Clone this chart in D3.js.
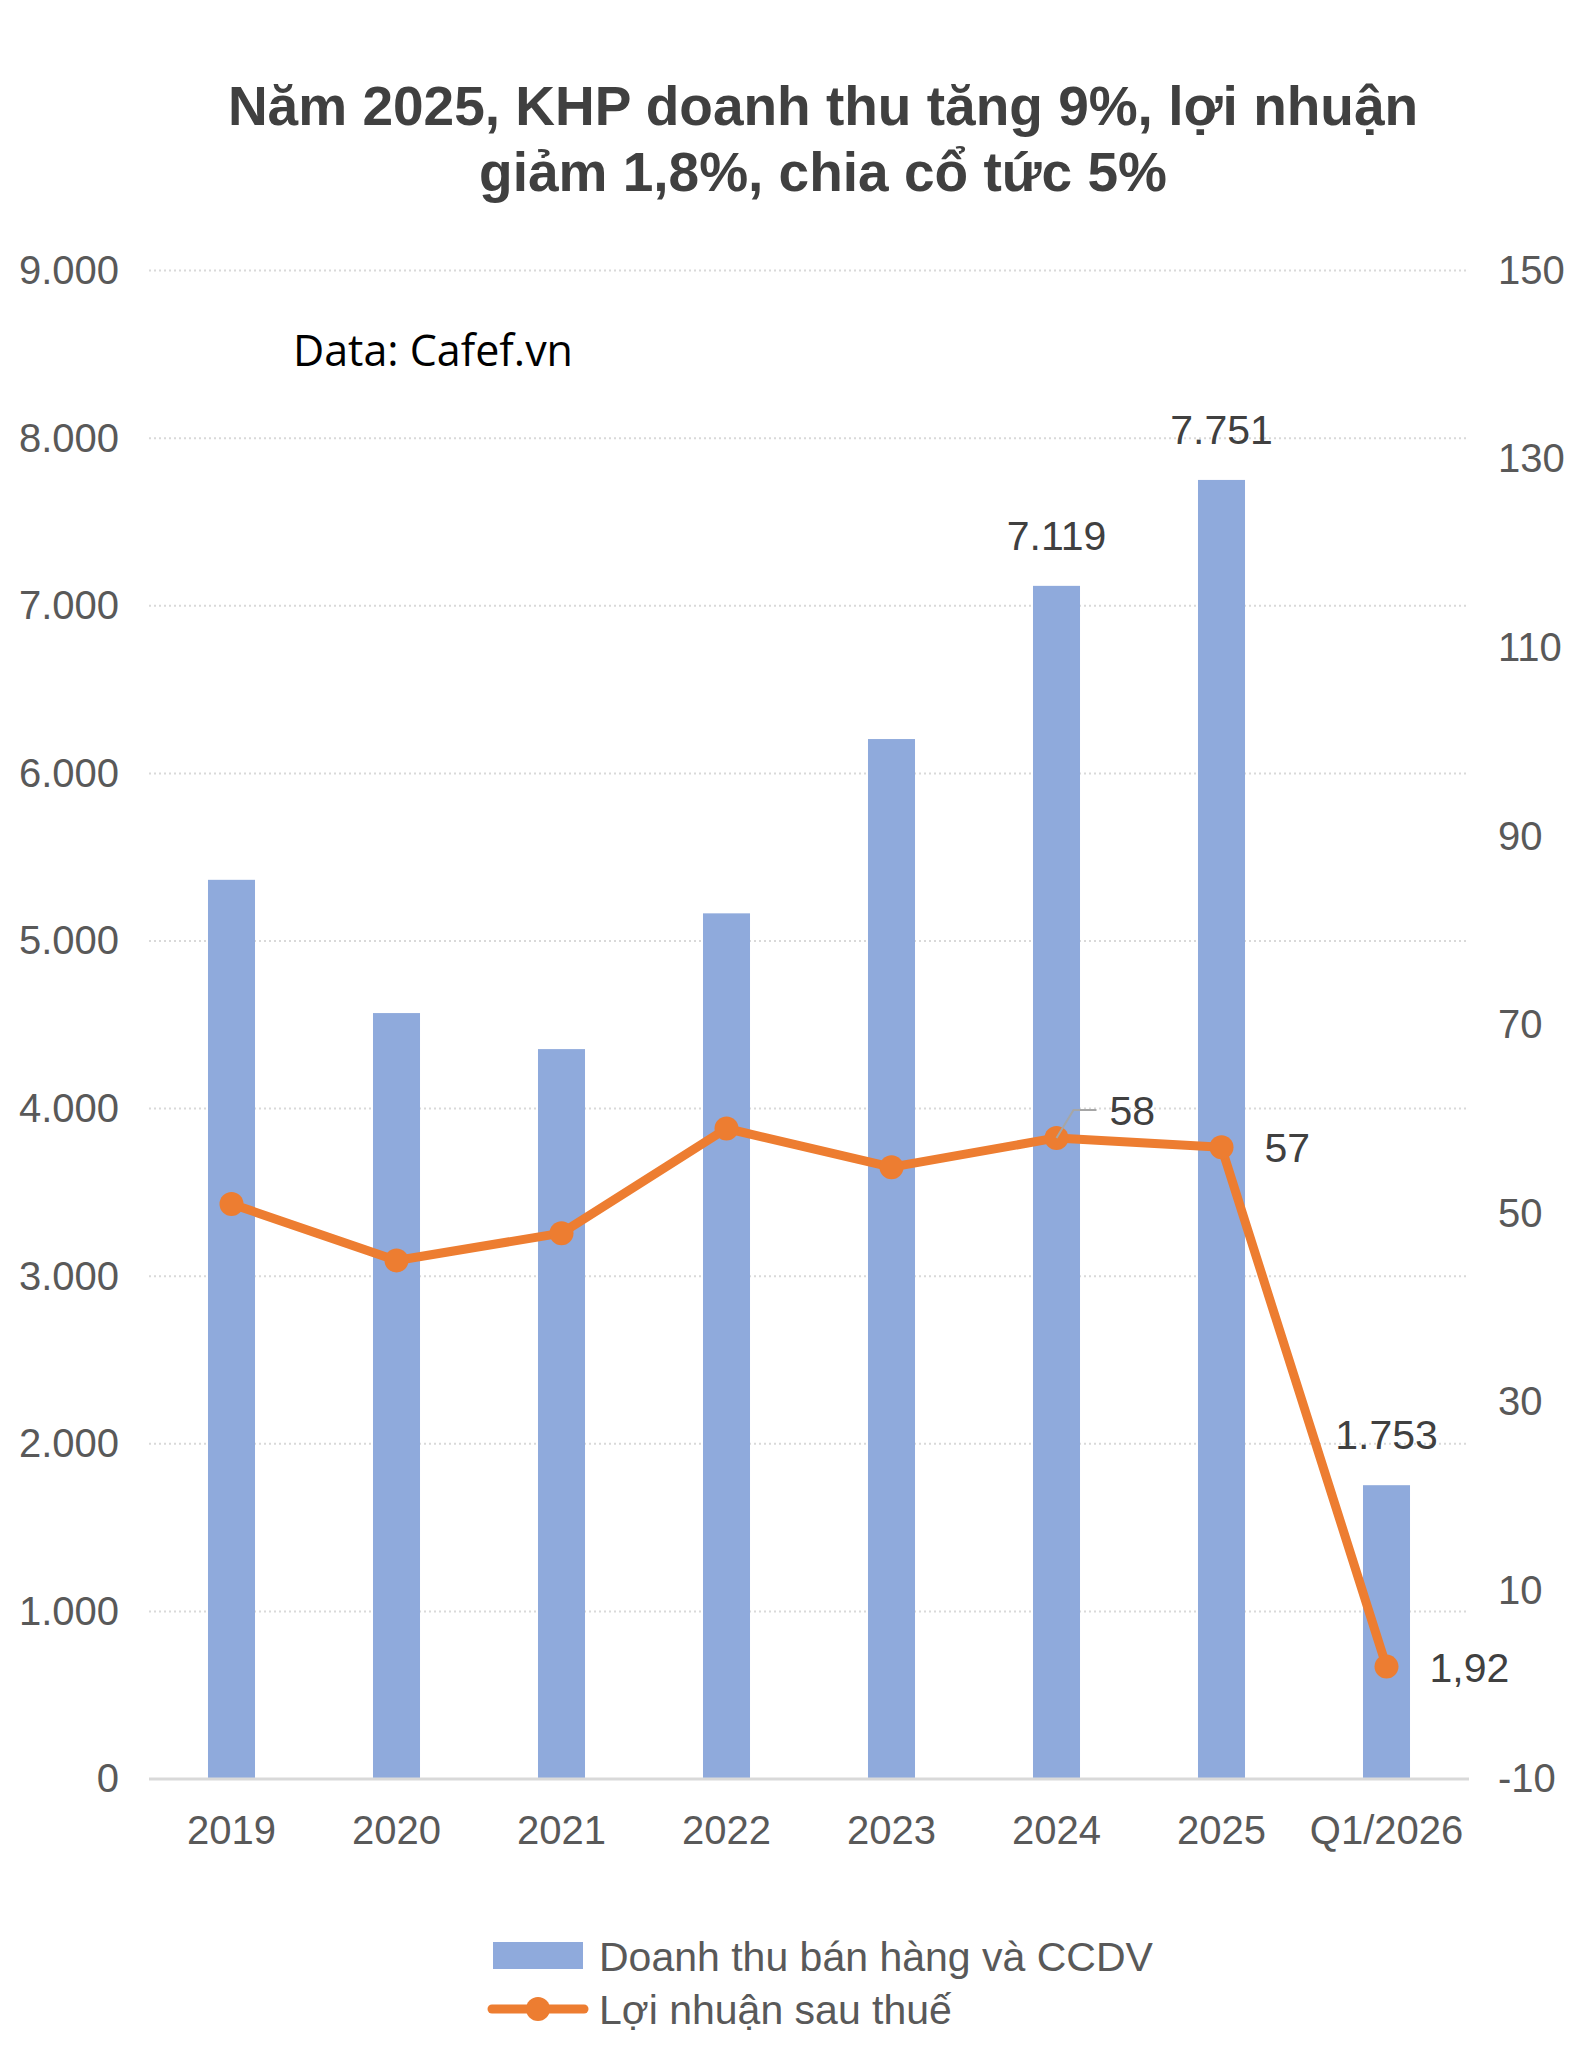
<!DOCTYPE html>
<html>
<head>
<meta charset="utf-8">
<script src="https://cdn.jsdelivr.net/npm/d3@7"></script>
<style>
  body { margin: 0; background: #fff; }
</style>
</head>
<body>
<div id="chart"></div>
<script>
// data
var categories = ["2019", "2020", "2021", "2022", "2023", "2024", "2025", "Q1/2026"];
var revenue = [5365, 4570, 4355, 5165, 6205, 7119, 7751, 1753];
var profit = [51, 45, 47.9, 59, 54.9, 58, 57, 1.92];
var leftTicks = [0, 1000, 2000, 3000, 4000, 5000, 6000, 7000, 8000, 9000];
var rightTicks = [-10, 10, 30, 50, 70, 90, 110, 130, 150];
var revenueLabelled = ["2024", "2025", "Q1/2026"];
var profitLabelled = ["2024", "2025", "Q1/2026"];

var w = 1584, h = 2069;
var plotLeft = 149, plotRight = 1469, plotTop = 270.6, plotBottom = 1779;

var locale = d3.formatLocale({decimal: ",", thousands: ".", grouping: [3], currency: ["", ""]});
var fmtInt = locale.format(",d");
var fmtDec = locale.format(",.2f");

var svg = d3.select("#chart").append("svg")
  .attr("width", w).attr("height", h)
  .attr("font-family", "Liberation Sans, Arial, sans-serif");

var x = d3.scaleBand().domain(categories).range([plotLeft, plotRight]).paddingInner(0.715).paddingOuter(0.3575);
var yL = d3.scaleLinear().domain([0, 9000]).range([plotBottom, plotTop]);
var yR = d3.scaleLinear().domain([-10, 150]).range([plotBottom, plotTop]);

// title
var title = svg.append("text")
  .attr("text-anchor", "middle")
  .attr("font-size", 55).attr("font-weight", "bold")
  .attr("fill", "#404040");
title.append("tspan").attr("x", 823).attr("y", 125).text("Năm 2025, KHP doanh thu tăng 9%, lợi nhuận");
title.append("tspan").attr("x", 823).attr("y", 191).text("giảm 1,8%, chia cổ tức 5%");

// gridlines
svg.append("g")
  .selectAll("line")
  .data(leftTicks.filter(function(d) { return d > 0; }))
  .enter().append("line")
  .attr("x1", plotLeft).attr("x2", plotRight)
  .attr("y1", function(d) { return yL(d); })
  .attr("y2", function(d) { return yL(d); })
  .attr("stroke", "#d9d9d9").attr("stroke-width", 2)
  .attr("stroke-dasharray", "2,3");

// left axis
var axL = svg.append("g")
  .attr("transform", "translate(" + plotLeft + ",0)")
  .call(d3.axisLeft(yL).tickValues(leftTicks).tickSize(0).tickPadding(30).tickFormat(fmtInt));
axL.select(".domain").remove();
axL.selectAll("text").attr("font-size", 40).attr("fill", "#595959")
  .attr("font-family", "Liberation Sans, Arial, sans-serif");

// right axis
var axR = svg.append("g")
  .attr("transform", "translate(" + plotRight + ",0)")
  .call(d3.axisRight(yR).tickValues(rightTicks).tickSize(0).tickPadding(29).tickFormat(function(d) { return d; }));
axR.select(".domain").remove();
axR.selectAll("text").attr("font-size", 40).attr("fill", "#595959")
  .attr("font-family", "Liberation Sans, Arial, sans-serif");

// bars
svg.append("g")
  .selectAll("rect")
  .data(categories)
  .enter().append("rect")
  .attr("x", function(d) { return x(d); })
  .attr("width", x.bandwidth())
  .attr("y", function(d, i) { return yL(revenue[i]); })
  .attr("height", function(d, i) { return yL(0) - yL(revenue[i]); })
  .attr("fill", "#8faadc");

// baseline
svg.append("line")
  .attr("x1", plotLeft).attr("x2", plotRight)
  .attr("y1", plotBottom).attr("y2", plotBottom)
  .attr("stroke", "#d9d9d9").attr("stroke-width", 3);

// x axis
var axX = svg.append("g")
  .attr("transform", "translate(0," + plotBottom + ")")
  .call(d3.axisBottom(x).tickSize(0).tickPadding(37));
axX.select(".domain").remove();
axX.selectAll("text").attr("font-size", 40).attr("fill", "#595959")
  .attr("font-family", "Liberation Sans, Arial, sans-serif");

// profit line
var cx = function(i) { return x(categories[i]) + x.bandwidth() / 2; };
var line = d3.line()
  .x(function(d, i) { return cx(i); })
  .y(function(d) { return yR(d); });

svg.append("path")
  .datum(profit)
  .attr("d", line)
  .attr("fill", "none")
  .attr("stroke", "#ed7d31").attr("stroke-width", 9)
  .attr("stroke-linejoin", "round");

svg.append("g")
  .selectAll("circle")
  .data(profit)
  .enter().append("circle")
  .attr("cx", function(d, i) { return cx(i); })
  .attr("cy", function(d) { return yR(d); })
  .attr("r", 12)
  .attr("fill", "#ed7d31");

// bar labels
categories.forEach(function(c, i) {
  if (revenueLabelled.indexOf(c) < 0) return;
  svg.append("text")
    .attr("x", cx(i)).attr("y", yL(revenue[i]) - 36)
    .attr("text-anchor", "middle")
    .attr("font-size", 41).attr("fill", "#404040")
    .text(fmtInt(revenue[i]));
});

// profit labels
categories.forEach(function(c, i) {
  if (profitLabelled.indexOf(c) < 0) return;
  var px = cx(i), py = yR(profit[i]);
  var txt = profit[i] % 1 === 0 ? fmtInt(profit[i]) : fmtDec(profit[i]);
  if (c === "2024") {
    // leader line to the label
    svg.append("path")
      .attr("d", "M" + px + "," + py + "L" + (px + 17) + "," + (py - 28) + "L" + (px + 40) + "," + (py - 28))
      .attr("fill", "none").attr("stroke", "#a6a6a6").attr("stroke-width", 2);
    svg.append("text")
      .attr("x", px + 53).attr("y", py - 28 + 15)
      .attr("font-size", 41).attr("fill", "#404040")
      .text(txt);
  } else {
    svg.append("text")
      .attr("x", px + 43).attr("y", py + 15)
      .attr("font-size", 41).attr("fill", "#404040")
      .text(txt);
  }
});

// data source note
svg.append("text")
  .attr("x", 293).attr("y", 366)
  .attr("font-family", "Open Sans, sans-serif")
  .attr("font-size", 43).attr("fill", "#000")
  .text("Data: Cafef.vn");

// legend
var lg = svg.append("g");
lg.append("rect").attr("x", 493).attr("y", 1942).attr("width", 90).attr("height", 27).attr("fill", "#8faadc");
lg.append("text").attr("x", 599).attr("y", 1971).attr("font-size", 41).attr("fill", "#595959")
  .text("Doanh thu bán hàng và CCDV");
lg.append("line").attr("x1", 492).attr("x2", 584).attr("y1", 2009).attr("y2", 2009)
  .attr("stroke", "#ed7d31").attr("stroke-width", 9).attr("stroke-linecap", "round");
lg.append("circle").attr("cx", 538).attr("cy", 2009).attr("r", 12).attr("fill", "#ed7d31");
lg.append("text").attr("x", 599).attr("y", 2024).attr("font-size", 41).attr("fill", "#595959")
  .text("Lợi nhuận sau thuế");
</script>
</body>
</html>
